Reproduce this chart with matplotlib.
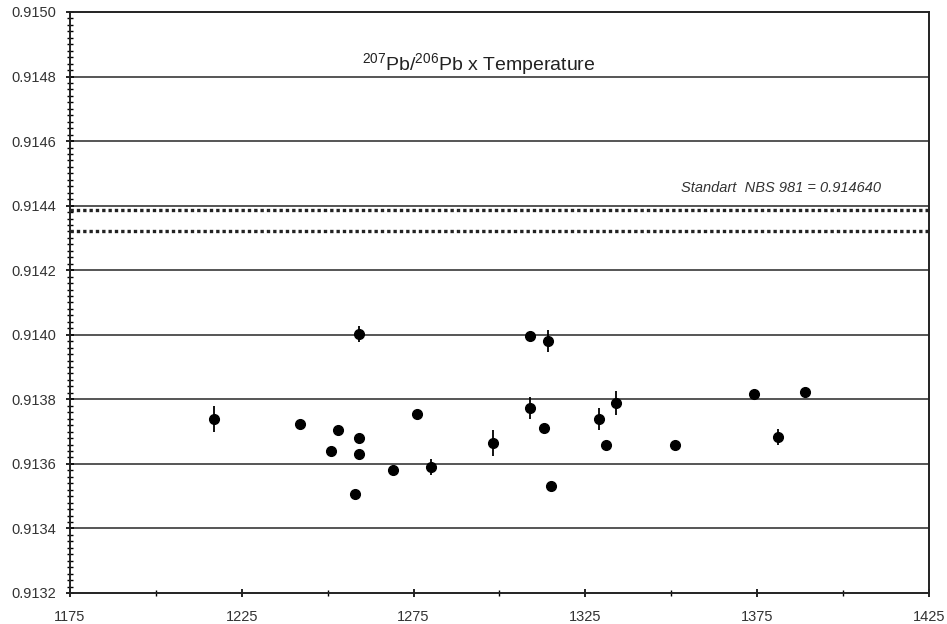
import numpy as np
import matplotlib
matplotlib.use('Agg')
import matplotlib.pyplot as plt
from matplotlib.ticker import MultipleLocator, FixedLocator, FormatStrFormatter

plt.rcParams['font.family'] = ['Liberation Sans', 'DejaVu Sans']
plt.rcParams['mathtext.default'] = 'regular'

# temperature (C) and 207Pb/206Pb ratio
temps = [1217, 1242, 1251, 1253, 1258, 1259, 1259, 1259, 1269, 1276, 1280, 1298,
         1309, 1309, 1313, 1314, 1315, 1329, 1331, 1334, 1351, 1374, 1381, 1389]
ratios = [0.913738, 0.913722, 0.913639, 0.913704, 0.913508, 0.914002, 0.913681, 0.913632,
          0.913580, 0.913755, 0.913591, 0.913665, 0.913997, 0.913774, 0.913712, 0.913980,
          0.913531, 0.913738, 0.913657, 0.913789, 0.913659, 0.913818, 0.913684, 0.913824]
errors = [0.000040, 0.000010, 0.000008, 0.000008, 0.000008, 0.000025, 0.000008, 0.000008,
          0.000008, 0.000008, 0.000025, 0.000040, 0.000008, 0.000034, 0.000008, 0.000034,
          0.000008, 0.000034, 0.000008, 0.000037, 0.000008, 0.000008, 0.000025, 0.000008]

x_ticks = [1175, 1225, 1275, 1325, 1375, 1425]

# standard band (dotted lines)
std_lines = [0.914387, 0.914320]
std_label = 'Standart  NBS 981 = 0.914640'

fig = plt.figure(figsize=(9.47, 6.24), dpi=100)
ax = fig.add_axes([0.0739, 0.0497, 0.9071, 0.9311])

ax.set_xlim(1175, 1425)
ax.set_ylim(0.9132, 0.9150)

# horizontal grid
for g in np.arange(0.9134, 0.91495, 0.0002):
    ax.axhline(g, color='#555555', lw=1.4, zorder=1)

for s in std_lines:
    ax.axhline(s, color='#222222', lw=2.4, linestyle=(0, (1, 0.9)), zorder=2)

ax.errorbar(temps, ratios, yerr=errors, fmt='o', color='black', ms=7,
            elinewidth=1.3, capsize=0, zorder=3)

ax.text(1294, 0.91484, r'$^{207}$Pb/$^{206}$Pb x Temperature', ha='center', va='center',
        fontsize=14, color='#222222')
ax.text(1382, 0.914455, std_label, ha='center', va='center', fontsize=10.5,
        style='italic', color='#333333')

ax.xaxis.set_major_locator(FixedLocator(x_ticks))
ax.xaxis.set_minor_locator(MultipleLocator(25))
ax.yaxis.set_major_locator(MultipleLocator(0.0002))
ax.yaxis.set_minor_locator(MultipleLocator(0.00002))
ax.yaxis.set_major_formatter(FormatStrFormatter('%.4f'))

ax.tick_params(axis='both', which='major', direction='inout', length=6, width=1.2,
               labelsize=10.5, labelcolor='#333333')
ax.tick_params(axis='both', which='minor', direction='inout', length=4, width=1)
ax.tick_params(axis='y', which='major', pad=7)
ax.tick_params(axis='x', which='major', pad=9)

for sp in ax.spines.values():
    sp.set_linewidth(1.4)
    sp.set_color('#222222')

fig.savefig('out.png', dpi=100)
